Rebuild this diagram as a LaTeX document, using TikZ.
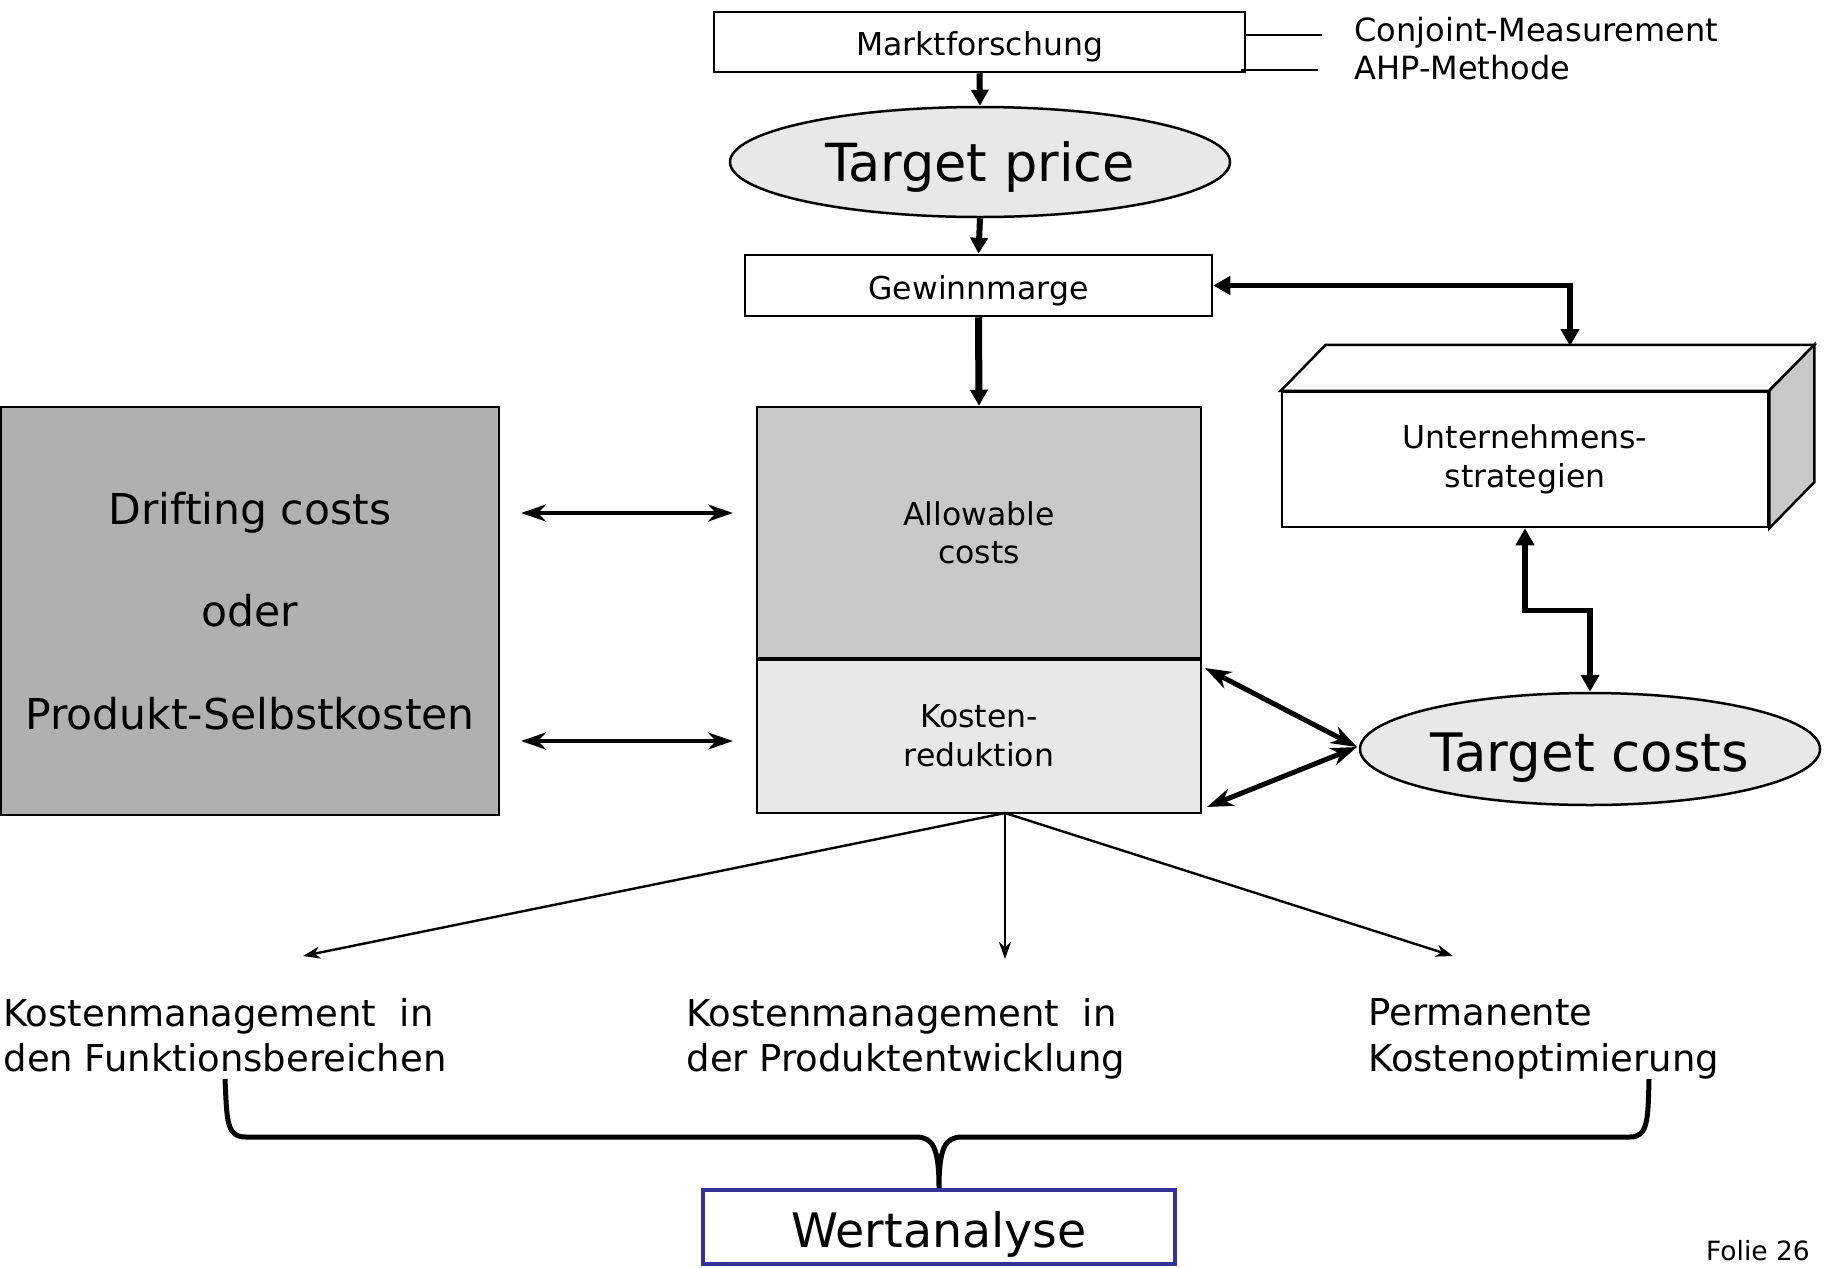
\documentclass[tikz,border=0pt]{standalone}
\usepackage{fontspec}
\setmainfont{DejaVu Sans}
\usetikzlibrary{shapes.geometric,arrows.meta,calc}

\definecolor{lightfill}{HTML}{E8E8E8}
\definecolor{midfill}{HTML}{C8C8C8}
\definecolor{darkfill}{HTML}{B0B0B0}
\definecolor{navyline}{HTML}{333399}

% lower a one-line label without changing the size of its node
\newcommand{\dropby}[2]{\raisebox{-#1pt}[\height][\depth]{#2}}

\tikzset{
  txt/.style={font=\fontsize{31.5}{38.5}\selectfont, align=center},
  box/.style={draw, line width=2.5pt, inner sep=0pt, txt},
  oval/.style={ellipse, draw, line width=2.5pt, fill=lightfill, inner sep=0pt},
  heavy/.style={line width=6pt, -{Triangle[length=16pt,width=17pt]}},
  heavyboth/.style={line width=5.5pt, {Triangle[length=17pt,width=18pt]}-{Triangle[length=17pt,width=18pt]}},
  thinboth/.style={line width=4pt, {Stealth[length=25pt,width=17pt,inset=8pt]}-{Stealth[length=25pt,width=17pt,inset=8pt]}},
  slantboth/.style={line width=5pt, {Stealth[length=26pt,width=18pt,inset=8pt]}-{Stealth[length=26pt,width=18pt,inset=8pt]}},
  fan/.style={line width=2.4pt, -{Stealth[length=17pt,width=12pt,inset=5pt]}},
  plain/.style={line width=2.5pt},
  fieldtxt/.style={txt, anchor=west, align=left, text depth=0pt, font=\fontsize{37}{45.5}\selectfont},
}

\begin{document}
\begin{tikzpicture}[x=1pt,y=-1pt]
\useasboundingbox (0,0) rectangle (1829,1267);

% top chain: market research, target price, profit margin
\node[box, minimum width=531pt, minimum height=60pt] (markt) at (979.5,42) {\dropby{5}{Marktforschung}};
\node[txt, anchor=west, font=\fontsize{32}{38}\selectfont] (conj) at (1351,33) {Conjoint-Measurement};
\node[txt, anchor=west, font=\fontsize{32}{38}\selectfont] (ahp) at (1351,68) {AHP-Methode};
\draw[plain] (markt.east |- 0,35) -- ([xshift=-29pt]conj.west |- 0,35);
\draw[plain] ([xshift=-5pt]markt.east |- 0,70) -- ([xshift=-33pt]ahp.west |- 0,70);

\node[oval, minimum width=500pt, minimum height=110pt, font=\fontsize{52.5}{60}\selectfont] (tprice) at (980,162) {\dropby{5}{Target price}};
\node[box, minimum width=467pt, minimum height=61pt] (gewinn) at (978.5,285.5) {\dropby{5}{Gewinnmarge}};

% cost blocks
\node[box, fill=darkfill, minimum width=498pt, minimum height=408pt, font=\fontsize{42.5}{102.6}\selectfont] (drift) at (250,611)
  {Drifting costs\\oder\\Produkt-Selbstkosten};
\node[box, fill=midfill, minimum width=444pt, minimum height=251pt] (allow) at (979,532.5) {Allowable\\ costs};
\node[box, fill=lightfill, minimum width=444pt, minimum height=155pt] (kosten) at (979,735.5) {Kosten-\\reduktion};
\draw[line width=4pt] (allow.south west) -- (allow.south east);

% corporate strategy block drawn as a cuboid
\node[box, fill=white, minimum width=486pt, minimum height=135pt] (unt) at (1525,459.5) {Unternehmens-\\strategien};
\draw[line width=2.5pt, fill=white, line join=miter]
  (unt.north west) -- ++(45,-46) -- ($(unt.north east)+(45,-46)$) -- (unt.north east) -- cycle;
\draw[line width=2.5pt, fill=midfill, line join=miter]
  (unt.north east) -- ++(45,-46) -- ($(unt.south east)+(45,-46)$) -- (unt.south east) -- cycle;
\coordinate (utop) at (1570,346);

\node[oval, minimum width=460pt, minimum height=112pt, font=\fontsize{53}{60}\selectfont] (tcost) at (1590,749) {\dropby{9}{Target costs}};

% value analysis
\node[box, draw=navyline, line width=4pt, minimum width=472pt, minimum height=74pt, font=\fontsize{47.5}{55}\selectfont] (wert) at (939,1227) {\dropby{7}{Wertanalyse}};

% three fields of cost management
\node[fieldtxt] (kmf) at (0,1035) {Kostenmanagement\ \ in\\den Funktionsbereichen};
\node[fieldtxt] (kmp) at (683,1035) {Kostenmanagement\ \ in\\der Produktentwicklung};
\node[fieldtxt] (pko) at (1365,1035) {Permanente\\Kostenoptimierung};

\node[txt, font=\fontsize{26.5}{30}\selectfont] (folie) at (1758,1251) {Folie 26};

% connectors of the top chain
\draw[heavy] (markt.south) -- (tprice.north);
\draw[heavy] (tprice.south) -- (gewinn.north);
\draw[heavy, line width=7pt] (gewinn.south) -- (allow.north);
\draw[heavyboth, line join=miter] (gewinn.east) -| (utop);
\draw[heavyboth, line join=miter] (unt.south) -- ++(0,82) -| (tcost.north);

% links between drifting and allowable costs
\coordinate (a1) at (521,513);
\coordinate (a2) at (733,513);
\coordinate (b1) at (521,741);
\coordinate (b2) at (733,741);
\draw[thinboth] (a1) -- (a2);
\draw[thinboth] (b1) -- (b2);

% links between target costs and cost reduction
\coordinate (k1) at (1205,668);
\coordinate (k2) at (1207,807);
\coordinate (t1) at (1357,747);
\draw[slantboth] (k1) -- (t1);
\draw[slantboth] (k2) -- (t1);

% fan from cost reduction to the three fields
\coordinate (fo) at (1005,813);
\coordinate (f1) at (303,956);
\coordinate (f2) at (1005,959);
\coordinate (f3) at (1453,956);
\draw[fan] (fo) -- (f1);
\draw[fan] (fo) -- (f2);
\draw[fan] (fo) -- (f3);

% brace gathering the fields into value analysis
\draw[line width=5pt, line join=round]
  (225,1079) .. controls (227,1120) and (226,1137) .. (246,1137) -- (916,1137)
  .. controls (933,1137) and (939,1148) .. (wert.north)
  (wert.north) .. controls (939,1148) and (945,1137) .. (962,1137) -- (1630,1137)
  .. controls (1648,1137) and (1648,1120) .. (1649,1079);
\end{tikzpicture}
\end{document}
